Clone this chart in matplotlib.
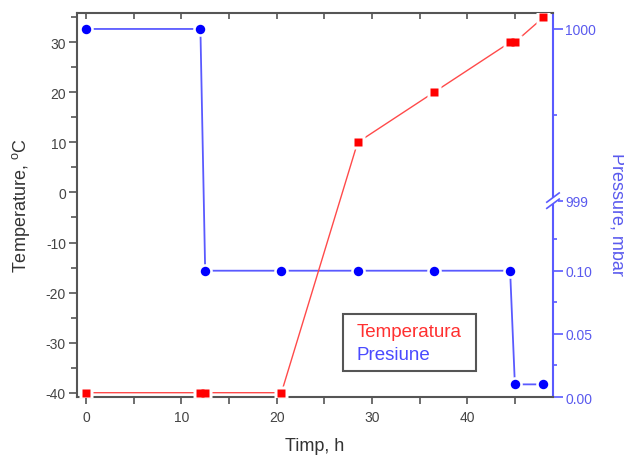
import numpy as np
import matplotlib
matplotlib.use("Agg")
import matplotlib.pyplot as plt
from matplotlib.ticker import FixedLocator, FixedFormatter, MultipleLocator
from matplotlib.lines import Line2D
from matplotlib.patches import Rectangle

plt.rcParams['font.family'] = ['Liberation Sans', 'DejaVu Sans']
plt.rcParams['axes.unicode_minus'] = False

# data
time_temp = [0, 12, 12.5, 20.5, 28.5, 36.5, 44.5, 45, 48]
temperature = [-40, -40, -40, -40, 10, 20, 30, 30, 35]
time_pres = [0, 12, 12.5, 20.5, 28.5, 36.5, 44.5, 45, 48]
pressure = [1000, 1000, 0.1, 0.1, 0.1, 0.1, 0.1, 0.01, 0.01]
pres_ticks = [0.0, 0.05, 0.10, 999, 1000]
pres_labels = ['0.00', '0.05', '0.10', '999', '1000']
pres_minor = [0.025, 0.075, 0.125, 999.5]

RED = '#ff0000'
BLUE = '#0000ff'
RLINE = '#ff4a4a'
BLINE = '#5a5aff'
GREY = '#555555'
TICKC = '#444444'
RBLUE = '#5a5aee'

fig = plt.figure(figsize=(6.24, 4.56), dpi=100)
ax = fig.add_axes([77/624, 1-398/456, 476/624, 384/456])
ax2 = ax.twinx()

# broken pressure scale (piecewise linear)
xp = [0, 0.1554, 999, 1001]
fp = [0, 196.3, 196.4, 196.4 + 2*171.7]
def fwd(p):
    return np.interp(p, xp, fp)
def inv(u):
    return np.interp(u, fp, xp)
ax2.set_yscale('function', functions=(fwd, inv))

# temperature
ax.plot(time_temp, temperature, '-', color=RLINE, lw=1.0, zorder=2)
ax.plot(time_temp, temperature, 's', ms=10.5, mfc='white', mec='none', zorder=3)
ax.plot(time_temp, temperature, 's', ms=6.3, mfc=RED, mec='none', zorder=4)
# pressure
ax2.plot(time_pres, pressure, '-', color=BLINE, lw=1.3, zorder=2)
ax2.plot(time_pres, pressure, 'o', ms=10.5, mfc='white', mec='none', zorder=3)
ax2.plot(time_pres, pressure, 'o', ms=6.8, mfc=BLUE, mec='none', zorder=4)

ax.set_xlim(-0.95, 49.0)
ax.set_ylim(-40.86, 35.85)
ax2.set_ylim(0, 1000.093)

# left/bottom axes styling
ax.xaxis.set_major_locator(MultipleLocator(10))
ax.xaxis.set_minor_locator(MultipleLocator(5))
ax.yaxis.set_major_locator(MultipleLocator(10))
ax.yaxis.set_minor_locator(MultipleLocator(5))
ax.tick_params(axis='x', which='both', direction='out', top=True, labeltop=False,
               color=GREY, labelcolor=TICKC, labelsize=10, width=1.2)
ax.tick_params(axis='x', which='major', length=5, pad=4)
ax.tick_params(axis='x', which='minor', length=5)
ax.tick_params(axis='y', which='both', direction='out', right=False,
               color=GREY, labelcolor=TICKC, labelsize=10, width=1.2)
ax.tick_params(axis='y', which='major', length=6, pad=2)
ax.tick_params(axis='y', which='minor', length=4)
for s in ['left', 'bottom', 'top']:
    ax.spines[s].set_color(GREY)
    ax.spines[s].set_linewidth(1.5)
ax.spines['right'].set_visible(False)
# top ticks inward
for t in ax.xaxis.get_major_ticks() + ax.xaxis.get_minor_ticks():
    t.tick2line.set_marker(3)  # TICKDOWN
    t.tick2line.set_markersize(4)

# right pressure axis styling
ax2.yaxis.set_major_locator(FixedLocator(pres_ticks))
ax2.yaxis.set_major_formatter(FixedFormatter(pres_labels))
ax2.yaxis.set_minor_locator(FixedLocator(pres_minor))
ax2.yaxis.set_minor_formatter(FixedFormatter([''] * len(pres_minor)))
ax2.tick_params(axis='y', which='both', direction='out', color=BLINE,
                labelcolor=RBLUE, labelsize=10, width=1.2)
ax2.tick_params(axis='y', which='major', length=7, pad=2)
ax2.tick_params(axis='y', which='minor', length=3)
for s in ['left', 'bottom', 'top']:
    ax2.spines[s].set_visible(False)
ax2.spines['right'].set_color(BLINE)
ax2.spines['right'].set_linewidth(1.5)

# axis break marks on the right spine
ub = 196.35 / 384
ax2.add_patch(Rectangle((0.99, ub - 0.008), 0.02, 0.016, transform=ax2.transAxes,
                        facecolor='white', edgecolor='none', clip_on=False, zorder=5))
for dy in (-0.008, 0.008):
    ax2.add_line(Line2D([1 - 0.013, 1 + 0.013], [ub + dy - 0.012, ub + dy + 0.012],
                        transform=ax2.transAxes, color=BLINE, lw=1.2, clip_on=False, zorder=6))

# labels
ax.set_xlabel('Timp, h', fontsize=13, color='#333333')
ax.xaxis.set_label_coords(0.5, -0.104)
ax.set_ylabel('Temperature, $\\mathregular{^oC}$', fontsize=13, color='#333333')
ax.yaxis.set_label_coords(-0.094, 0.5)
ax2.set_ylabel('Pressure, mbar', fontsize=13, color=RBLUE, rotation=270,
               va='center', ha='center')
ax2.yaxis.set_label_coords(1.134, 0.477)

# legend
handles = [Line2D([], [], linestyle='none'), Line2D([], [], linestyle='none')]
leg = ax.legend(handles, ['Temperatura', 'Presiune'], loc='upper left',
                bbox_to_anchor=(0.558, 0.066, 0.28, 0.15), mode='expand',
                borderaxespad=0, handlelength=0,
                handletextpad=0.28, fancybox=False, framealpha=1, edgecolor='#555555',
                fontsize=13.5, labelspacing=0.33, borderpad=0.45)
leg.get_frame().set_linewidth(1.5)
leg.get_texts()[0].set_color('#ff3030')
leg.get_texts()[1].set_color('#4a4aff')
leg.set_zorder(10)
ax.set_zorder(ax2.get_zorder() + 1)
ax.patch.set_visible(False)

fig.savefig('out.png', dpi=100)
